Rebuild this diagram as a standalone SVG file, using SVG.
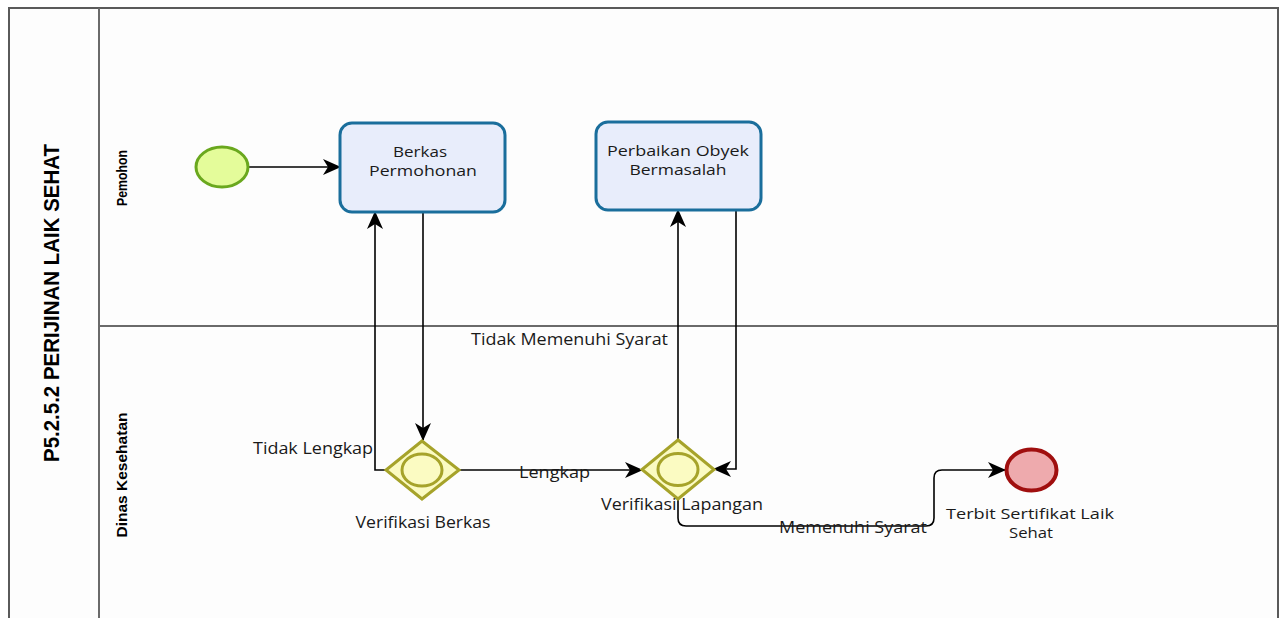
<svg xmlns="http://www.w3.org/2000/svg" width="1285" height="618" viewBox="0 0 1285 618">
  <defs>
    <marker id="arrow" viewBox="0 0 18 16" refX="17" refY="8" markerWidth="18" markerHeight="16" markerUnits="userSpaceOnUse" orient="auto">
      <path d="M0,0 L18,8 L0,16 L5,8 Z" fill="#000"/>
    </marker>
  </defs>
  <style>
    .pool { fill: #fdfdfd; stroke: #5a5a5a; stroke-width: 2; }
    .lane { stroke: #6a6a6a; stroke-width: 2; fill: none; }
    .title { font-family: "Liberation Sans Narrow", "Liberation Sans", sans-serif; font-weight: bold; font-size: 22px; fill: #000; }
    .lanelbl { font-family: "Liberation Sans Narrow", "Liberation Sans", sans-serif; font-weight: bold; font-size: 15px; fill: #000; }
    .task { fill: #e8edfb; stroke: #1a6e9c; stroke-width: 3; }
    .gw { fill: #fbfbc2; stroke: #a6a32a; stroke-width: 3; }
    .txt { font-family: "Open Sans", "Noto Sans", sans-serif; font-size: 16px; fill: #1a1a1a; text-anchor: middle; }
    .txt2 { font-family: "Open Sans", "Noto Sans", sans-serif; font-size: 15px; fill: #1a1a1a; text-anchor: middle; }
    .lbl { font-family: "Open Sans", "Noto Sans", sans-serif; font-size: 16px; fill: #1a1a1a; }
    .flow { fill: none; stroke: #000; stroke-width: 1.6; }
  </style>

  <rect width="1285" height="618" fill="#ffffff"/>

  <!-- pool and lanes -->
  <g id="pool">
    <rect class="pool" x="9" y="8" width="1269" height="640"/>
    <line class="lane" x1="99" y1="8" x2="99" y2="618"/>
    <line class="lane" x1="99" y1="326" x2="1278" y2="326"/>
    <text class="title" transform="translate(59,303) rotate(-90)" text-anchor="middle" textLength="318" lengthAdjust="spacingAndGlyphs">P5.2.5.2 PERIJINAN LAIK SEHAT</text>
    <text class="lanelbl" transform="translate(127,178) rotate(-90)" text-anchor="middle" textLength="56" lengthAdjust="spacingAndGlyphs">Pemohon</text>
    <text class="lanelbl" transform="translate(127,475) rotate(-90)" text-anchor="middle" textLength="125" lengthAdjust="spacingAndGlyphs">Dinas Kesehatan</text>
  </g>

  <!-- connectors -->
  <g id="connectors">
    <path class="flow" d="M249,167 L340,167" marker-end="url(#arrow)"/>
    <path class="flow" d="M423,212 L423,440" marker-end="url(#arrow)"/>
    <path class="flow" d="M386,470 L375,470 L375,212" marker-end="url(#arrow)"/>
    <path class="flow" d="M459,470 L642,470" marker-end="url(#arrow)"/>
    <path class="flow" d="M678,440 L678,210" marker-end="url(#arrow)"/>
    <path class="flow" d="M736,210 L736,469 L714,469" marker-end="url(#arrow)"/>
    <path class="flow" d="M678,499 L678,518 Q678,526 686,526 L926,526 Q934,526 934,518 L934,478 Q934,470 942,470 L1005,470" marker-end="url(#arrow)"/>
    <text class="lbl" x="253" y="454" textLength="120" lengthAdjust="spacingAndGlyphs">Tidak Lengkap</text>
    <text class="lbl" x="519" y="478" textLength="71" lengthAdjust="spacingAndGlyphs">Lengkap</text>
    <text class="lbl" x="471" y="345" textLength="197" lengthAdjust="spacingAndGlyphs">Tidak Memenuhi Syarat</text>
    <text class="lbl" x="779" y="533" textLength="148" lengthAdjust="spacingAndGlyphs">Memenuhi Syarat</text>
  </g>

  <!-- start event -->
  <g id="start">
    <ellipse cx="222" cy="167" rx="26" ry="20" fill="#e4fc9a" stroke="#6aa81e" stroke-width="3"/>
  </g>

  <!-- task: Berkas Permohonan -->
  <g id="berkas-permohonan">
    <rect class="task" x="340" y="123" width="165" height="89" rx="12"/>
    <text class="txt2" x="420" y="157" textLength="54" lengthAdjust="spacingAndGlyphs">Berkas</text>
    <text class="txt2" x="423" y="176" textLength="108" lengthAdjust="spacingAndGlyphs">Permohonan</text>
  </g>

  <!-- task: Perbaikan Obyek Bermasalah -->
  <g id="perbaikan-obyek">
    <rect class="task" x="596" y="122" width="165" height="88" rx="12"/>
    <text class="txt2" x="678" y="156" textLength="142" lengthAdjust="spacingAndGlyphs">Perbaikan Obyek</text>
    <text class="txt2" x="678" y="175" textLength="97" lengthAdjust="spacingAndGlyphs">Bermasalah</text>
  </g>

  <!-- gateway: Verifikasi Berkas -->
  <g id="verifikasi-berkas">
    <polygon class="gw" points="422,441 459,470 422,499 386,470"/>
    <ellipse class="gw" cx="422" cy="470" rx="20" ry="16"/>
    <text class="txt" x="423" y="528" textLength="135" lengthAdjust="spacingAndGlyphs">Verifikasi Berkas</text>
  </g>

  <!-- gateway: Verifikasi Lapangan -->
  <g id="verifikasi-lapangan">
    <polygon class="gw" points="678,440 714,469.5 678,499 642,469.5"/>
    <ellipse class="gw" cx="678" cy="469.5" rx="20" ry="16"/>
    <text class="txt" x="682" y="510" textLength="162" lengthAdjust="spacingAndGlyphs">Verifikasi Lapangan</text>
  </g>

  <!-- end event -->
  <g id="end">
    <ellipse cx="1031.5" cy="470" rx="25" ry="20.5" fill="#eeaaad" stroke="#a00f0f" stroke-width="4"/>
    <text class="txt2" x="1030" y="519" textLength="168" lengthAdjust="spacingAndGlyphs">Terbit Sertifikat Laik</text>
    <text class="txt2" x="1031" y="538" textLength="44" lengthAdjust="spacingAndGlyphs">Sehat</text>
  </g>
</svg>
